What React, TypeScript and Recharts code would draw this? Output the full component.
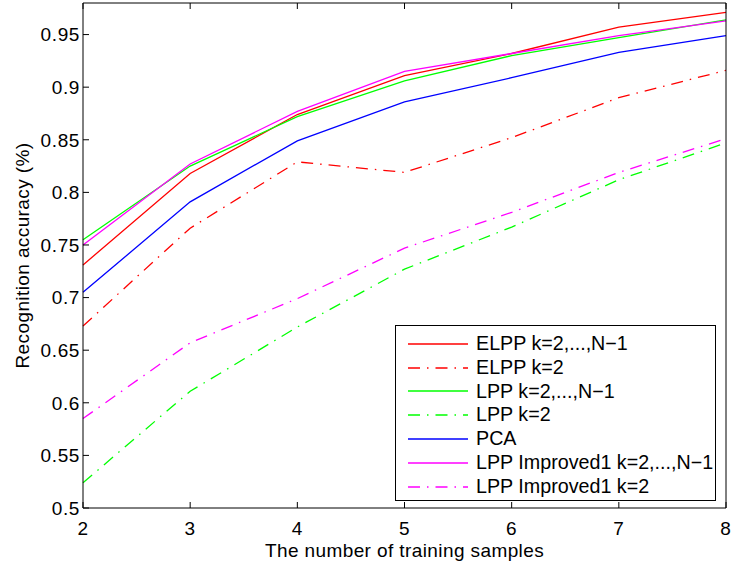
import React from "react";
import { LineChart, Line, XAxis, YAxis } from "recharts";

const samples = [2, 3, 4, 5, 6, 7, 8];
const elppAll = [0.731, 0.818, 0.874, 0.911, 0.932, 0.957, 0.971];
const elppK2 = [0.673, 0.766, 0.829, 0.819, 0.852, 0.89, 0.916];
const lppAll = [0.755, 0.825, 0.872, 0.906, 0.93, 0.947, 0.964];
const lppK2 = [0.524, 0.611, 0.672, 0.727, 0.767, 0.812, 0.847];
const pca = [0.705, 0.791, 0.849, 0.886, 0.909, 0.933, 0.949];
const lppImpAll = [0.75, 0.827, 0.877, 0.915, 0.932, 0.949, 0.963];
const lppImpK2 = [0.585, 0.657, 0.699, 0.747, 0.781, 0.819, 0.851];

const xTicks = [2, 3, 4, 5, 6, 7, 8];
const yTicks = [0.5, 0.55, 0.6, 0.65, 0.7, 0.75, 0.8, 0.85, 0.9, 0.95];

const DASHDOT = "12 7 1.5 7";
const FONT = "'Liberation Sans', Arial, Helvetica, sans-serif";

const series = [
  { key: "elppAll", name: "ELPP k=2,...,N\u22121", values: elppAll, color: "#ff0000", dash: undefined as string | undefined },
  { key: "elppK2", name: "ELPP k=2", values: elppK2, color: "#ff0000", dash: DASHDOT },
  { key: "lppAll", name: "LPP k=2,...,N\u22121", values: lppAll, color: "#00ff00", dash: undefined },
  { key: "lppK2", name: "LPP k=2", values: lppK2, color: "#00ff00", dash: DASHDOT },
  { key: "pca", name: "PCA", values: pca, color: "#0000ff", dash: undefined },
  { key: "lppImpAll", name: "LPP Improved1 k=2,...,N\u22121", values: lppImpAll, color: "#ff00ff", dash: undefined },
  { key: "lppImpK2", name: "LPP Improved1 k=2", values: lppImpK2, color: "#ff00ff", dash: DASHDOT },
];

const data = samples.map((x, i) => {
  const row: Record<string, number> = { x };
  series.forEach((s) => {
    row[s.key] = s.values[i];
  });
  return row;
});

const fmtY = (v: number) => String(Number(v.toFixed(2)));

const LegendBox = () => (
  <div
    style={{
      position: "absolute",
      left: 395,
      top: 325,
      width: 319,
      height: 168,
      border: "1px solid #000",
      background: "#fff",
      fontFamily: FONT,
      fontSize: 19.7,
      color: "#000",
      boxSizing: "content-box",
      paddingTop: 6,
    }}
  >
    {series.map((s) => (
      <div key={s.key} style={{ display: "flex", alignItems: "center", height: 23.8 }}>
        <svg width={80} height={10} style={{ display: "block", flex: "none" }}>
          <line x1={12} y1={5} x2={72} y2={5} stroke={s.color} strokeWidth={1.3} strokeDasharray={s.dash} />
        </svg>
        <span style={{ lineHeight: "23.8px", whiteSpace: "nowrap" }}>{s.name}</span>
      </div>
    ))}
  </div>
);

export default function App() {
  return (
    <div style={{ position: "absolute", left: 0, top: 0, width: 731, height: 564, background: "#fff" }}>
      <LineChart width={731} height={564} data={data} margin={{ top: 2, right: 4, left: 0, bottom: 0 }}>
        <XAxis
          dataKey="x"
          type="number"
          domain={[2, 8]}
          ticks={xTicks}
          height={56}
          tickSize={-6}
          tickMargin={20}
          axisLine={{ stroke: "#000", strokeWidth: 1 }}
          tickLine={{ stroke: "#000" }}
          tick={{ fill: "#000", fontSize: 19, fontFamily: FONT, letterSpacing: 0.6 }}
          label={{
            value: "The number of training samples",
            position: "center",
            dy: 14,
            fill: "#000",
            fontSize: 19,
            fontFamily: FONT,
            letterSpacing: 0.4,
          }}
        />
        <XAxis
          xAxisId="top"
          orientation="top"
          dataKey="x"
          type="number"
          domain={[2, 8]}
          ticks={xTicks}
          height={1}
          tickSize={-6}
          axisLine={{ stroke: "#000", strokeWidth: 1 }}
          tickLine={{ stroke: "#000" }}
          tick={() => <g />}
        />
        <YAxis
          type="number"
          domain={[0.5, 0.98]}
          ticks={yTicks}
          width={83}
          tickSize={-6}
          tickMargin={9}
          tickFormatter={fmtY}
          axisLine={{ stroke: "#000", strokeWidth: 1 }}
          tickLine={{ stroke: "#000" }}
          tick={{ fill: "#000", fontSize: 19, fontFamily: FONT, letterSpacing: 0.6 }}
          label={{
            value: "Recognition accuracy (%)",
            angle: -90,
            position: "center",
            dx: -19,
            fill: "#000",
            fontSize: 19,
            fontFamily: FONT,
            letterSpacing: 0.4,
          }}
        />
        <YAxis
          yAxisId="right"
          orientation="right"
          type="number"
          domain={[0.5, 0.98]}
          ticks={yTicks}
          width={1}
          tickSize={-6}
          axisLine={{ stroke: "#000", strokeWidth: 1 }}
          tickLine={{ stroke: "#000" }}
          tick={() => <g />}
        />
        {series.map((s) => (
          <Line
            key={s.key}
            dataKey={s.key}
            name={s.name}
            stroke={s.color}
            strokeWidth={1.3}
            strokeDasharray={s.dash}
            dot={false}
            activeDot={false}
            isAnimationActive={false}
            type="linear"
          />
        ))}
      </LineChart>
      <LegendBox />
    </div>
  );
}
